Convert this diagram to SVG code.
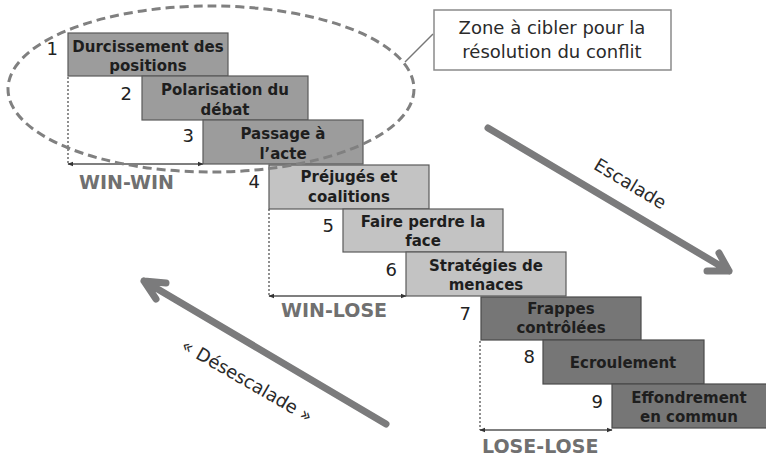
<svg xmlns="http://www.w3.org/2000/svg" width="766" height="458" viewBox="0 0 766 458">
<style>
.box1{fill:#9c9c9c;stroke:#5a5a5a;stroke-width:1.2}
.box2{fill:#c3c3c3;stroke:#5a5a5a;stroke-width:1.2}
.box3{fill:#767676;stroke:#4a4a4a;stroke-width:1.2}
.bt{font-family:"DejaVu Sans",Verdana,sans-serif;font-weight:bold;font-size:15px;fill:#1e1e1e;text-anchor:middle}
.num{font-family:"DejaVu Sans",Verdana,sans-serif;font-size:18px;fill:#222;text-anchor:end}
.lbl{font-family:"DejaVu Sans",Verdana,sans-serif;font-weight:bold;font-size:19px;fill:#707070}
.txt{font-family:"DejaVu Sans",Verdana,sans-serif;font-size:18px;fill:#2a2a2a;text-anchor:middle}
.dot{stroke:#555;stroke-width:1.3;stroke-dasharray:2,2;fill:none}
.harr{stroke:#555;stroke-width:1.5;fill:none;marker-start:url(#ah);marker-end:url(#ah)}
.big{stroke:#7b7b7c;stroke-width:7;stroke-linecap:round;stroke-linejoin:round;fill:none}
</style>
<defs>
<marker id="ah" viewBox="0 0 10 10" refX="9" refY="5" markerWidth="6" markerHeight="6" orient="auto-start-reverse" markerUnits="userSpaceOnUse">
<path d="M0,1 L10,5 L0,9 Z" fill="#333"/>
</marker>
</defs>
<rect width="766" height="458" fill="#fff"/>

<g id="connectors">
<line class="dot" x1="68" y1="77" x2="68" y2="164"/>
<line class="harr" x1="68" y1="164" x2="203" y2="164"/>
<line class="dot" x1="269" y1="209" x2="269" y2="296"/>
<line class="harr" x1="269" y1="296" x2="406" y2="296"/>
<line class="dot" x1="480" y1="341" x2="480" y2="430"/>
<line class="harr" x1="480" y1="430" x2="612" y2="430"/>
<path class="big" d="M488,128 L729,271 M707,271 L729,271 L719,253"/>
<path class="big" d="M386,424 L144,281 M166,283 L144,281 L156,299"/>
<line x1="405" y1="62" x2="433" y2="34" stroke="#777" stroke-width="1.5"/>
</g>

<g id="n1"><rect class="box1" x="68" y="33" width="160" height="43"/><text class="num" x="58" y="55">1</text><text class="bt" x="148" y="52">Durcissement des</text><text class="bt" x="148" y="71">positions</text></g>
<g id="n2"><rect class="box1" x="142" y="76" width="166" height="44"/><text class="num" x="132" y="100">2</text><text class="bt" x="225" y="95">Polarisation du</text><text class="bt" x="225" y="115">débat</text></g>
<g id="n3"><rect class="box1" x="203" y="120" width="160" height="44"/><text class="num" x="194" y="142">3</text><text class="bt" x="283" y="139">Passage à</text><text class="bt" x="283" y="159">l’acte</text></g>
<g id="n4"><rect class="box2" x="269" y="165" width="160" height="44"/><text class="num" x="260" y="188">4</text><text class="bt" x="349" y="182">Préjugés et</text><text class="bt" x="349" y="202">coalitions</text></g>
<g id="n5"><rect class="box2" x="343" y="209" width="160" height="43"/><text class="num" x="334" y="232">5</text><text class="bt" x="423" y="227">Faire perdre la</text><text class="bt" x="423" y="246">face</text></g>
<g id="n6"><rect class="box2" x="406" y="252" width="160" height="44"/><text class="num" x="397" y="276">6</text><text class="bt" x="486" y="271">Stratégies de</text><text class="bt" x="486" y="290">menaces</text></g>
<g id="n7"><rect class="box3" x="481" y="297" width="160" height="43"/><text class="num" x="471" y="320">7</text><text class="bt" x="561" y="314">Frappes</text><text class="bt" x="561" y="333">contrôlées</text></g>
<g id="n8"><rect class="box3" x="543" y="340" width="161" height="44"/><text class="num" x="535" y="363">8</text><text class="bt" x="623" y="368">Ecroulement</text></g>
<g id="n9"><rect class="box3" x="612" y="384" width="158" height="44"/><text class="num" x="603" y="408">9</text><text class="bt" x="689" y="403">Effondrement</text><text class="bt" x="689" y="422">en commun</text></g>

<g id="zone">
<ellipse cx="211" cy="89" rx="203" ry="83" fill="none" stroke="#808080" stroke-width="3" stroke-dasharray="9,5"/>
</g>
<g id="callout">
<rect x="434" y="10" width="237" height="60" fill="#fff" stroke="#8a8a8a" stroke-width="1.5"/>
<text class="txt" x="552" y="34">Zone à cibler pour la</text>
<text class="txt" x="552" y="58">résolution du conflit</text>
</g>

<g id="labels">
<text class="lbl" x="79" y="189">WIN-WIN</text>
<text class="lbl" x="281" y="317">WIN-LOSE</text>
<text class="lbl" x="482" y="453">LOSE-LOSE</text>
<text class="txt" transform="translate(627,189) rotate(31)" x="0" y="0">Escalade</text>
<text class="txt" transform="translate(244,386) rotate(30)" x="0" y="0">« Désescalade »</text>
</g>
</svg>
